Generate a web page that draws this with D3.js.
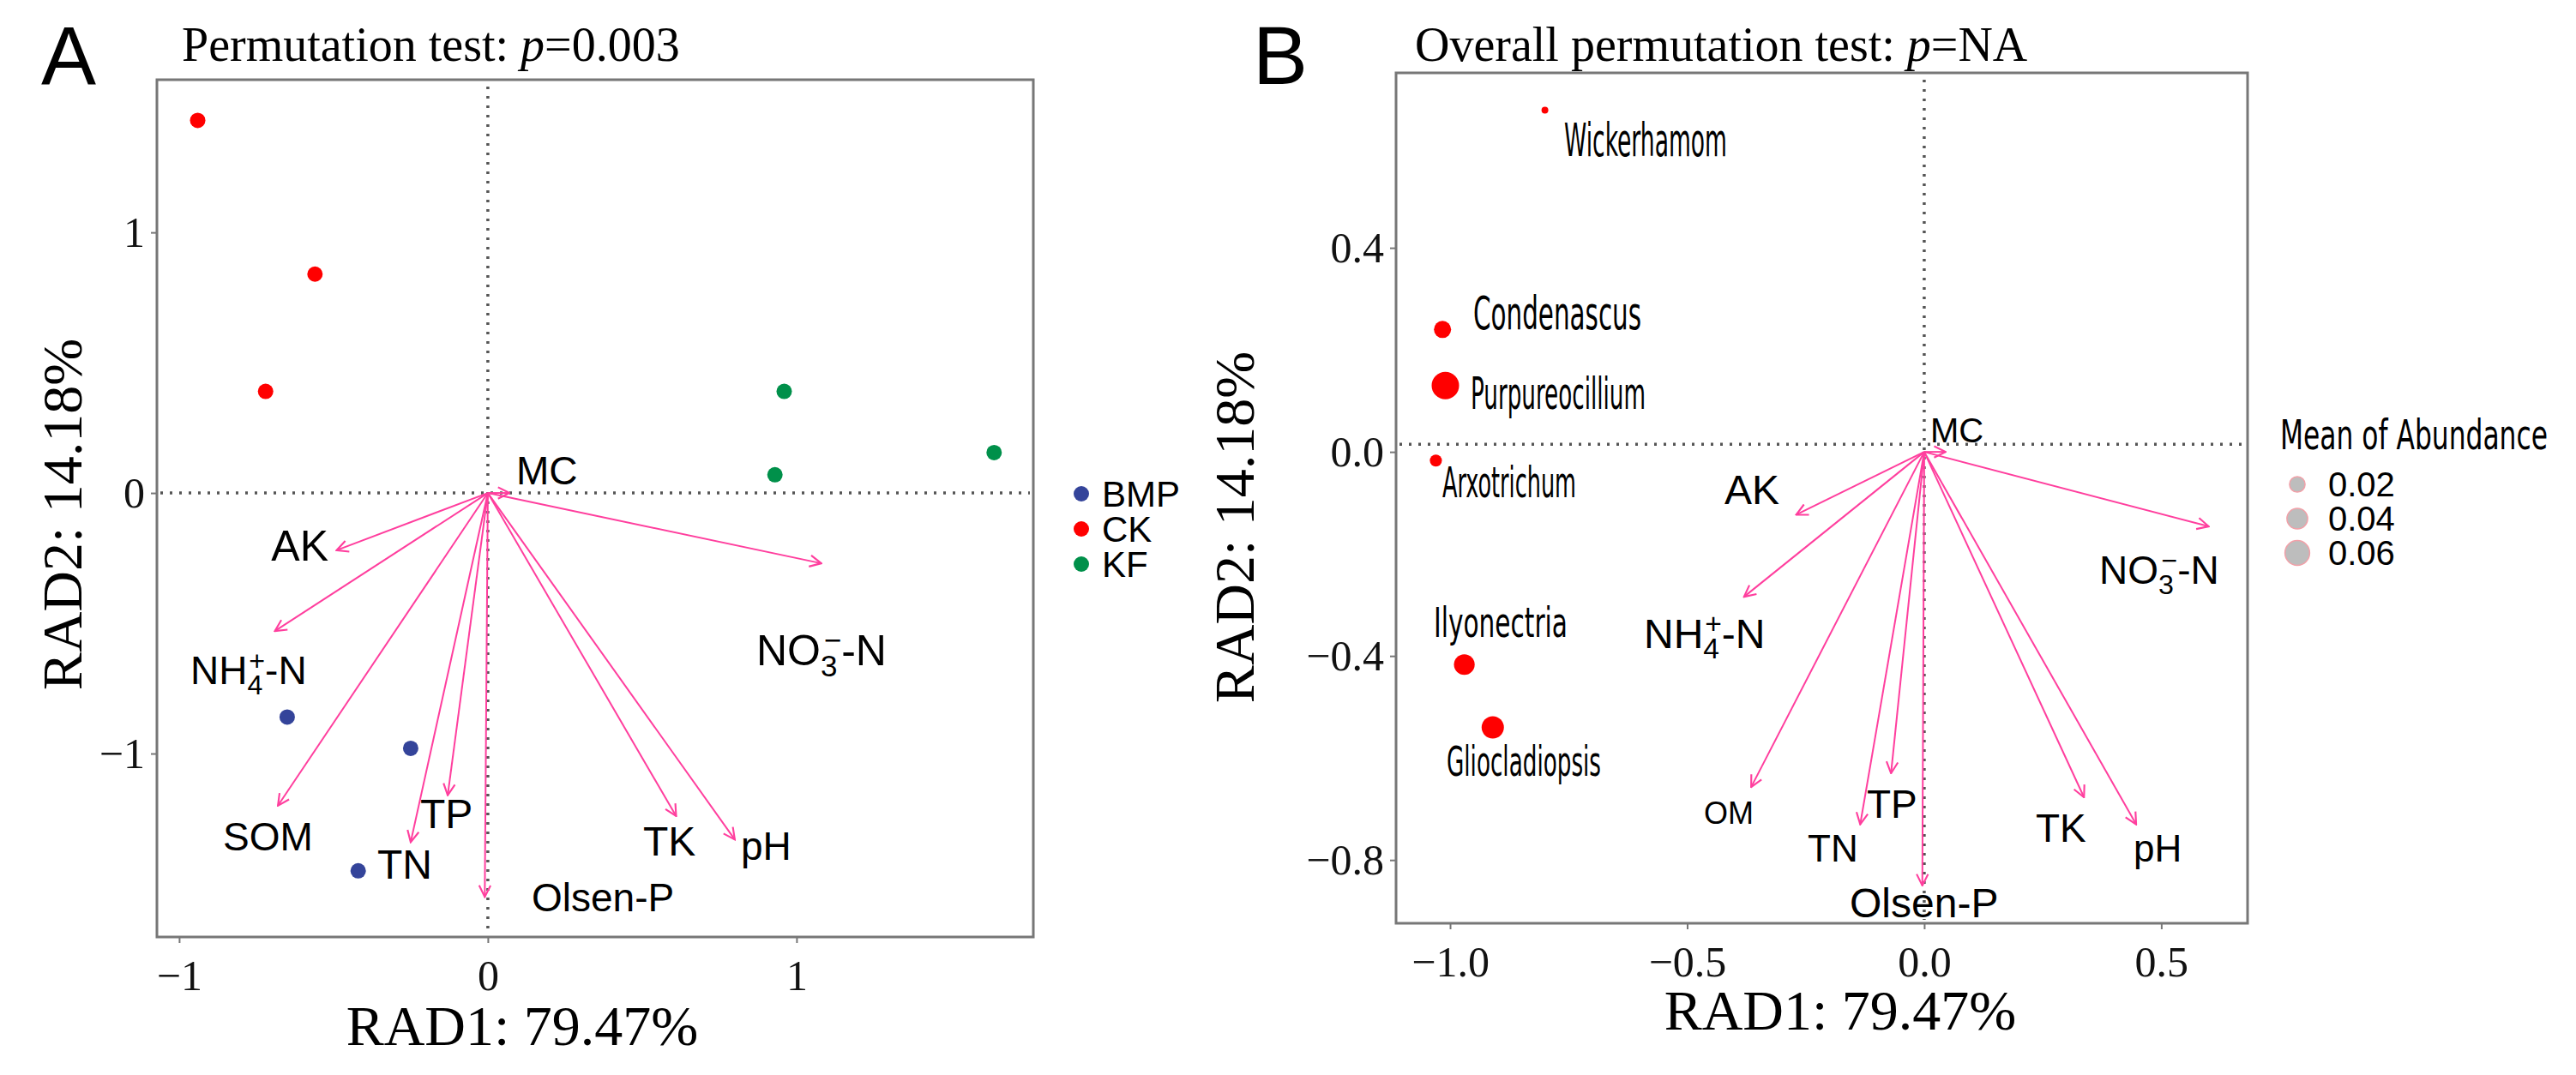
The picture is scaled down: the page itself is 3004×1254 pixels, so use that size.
<!DOCTYPE html>
<html><head><meta charset="utf-8">
<script src="https://cdn.jsdelivr.net/npm/d3@7"></script>
<style>body{margin:0;background:#fff}</style>
</head><body>
<svg id="chart" width="3004" height="1254"></svg>
<script>
// panel A samples
var groups = ["BMP", "CK", "KF"];
var groupColors = ["#34449a", "#ff0000", "#00904a"];
var sampleGroup = ["CK", "CK", "CK", "KF", "KF", "KF", "BMP", "BMP", "BMP"];
var sampleX = [-0.94, -0.56, -0.72, 0.96, 0.93, 1.64, -0.65, -0.25, -0.42];
var sampleY = [1.43, 0.84, 0.39, 0.39, 0.07, 0.155, -0.86, -0.98, -1.45];

// panel A env arrows
var envA = ["MC", "NO3", "AK", "NH4", "SOM", "TN", "TP", "Olsen-P", "TK", "pH"];
var envAX = [0.07, 1.08, -0.49, -0.69, -0.68, -0.25, -0.13, -0.01, 0.61, 0.80];
var envAY = [0.0, -0.27, -0.22, -0.53, -1.20, -1.34, -1.16, -1.55, -1.24, -1.33];

// panel B taxa
var taxa = ["Wickerhamom", "Condenascus", "Purpureocillium", "Arxotrichum", "Ilyonectria", "Gliocladiopsis"];
var taxaX = [-0.80, -1.016, -1.01, -1.03, -0.97, -0.91];
var taxaY = [0.67, 0.24, 0.13, -0.017, -0.417, -0.54];
var taxaAbund = [0.0012, 0.0196, 0.06, 0.0077, 0.031, 0.037];

// panel B env arrows
var envB = ["MC", "AK", "NO3", "NH4", "OM", "TN", "TP", "Olsen-P", "TK", "pH"];
var envBX = [0.045, -0.27, 0.60, -0.38, -0.365, -0.135, -0.07, -0.004, 0.337, 0.447];
var envBY = [0.0, -0.123, -0.146, -0.284, -0.657, -0.73, -0.63, -0.85, -0.677, -0.73];

var ticksA_X = [-1, 0, 1], ticksA_Y = [-1, 0, 1];
var ticksB_X = [-1.0, -0.5, 0.0, 0.5], ticksB_Y = [-0.8, -0.4, 0.0, 0.4];
var sizeLegend = [0.02, 0.04, 0.06];

var svg = d3.select("#chart");
var serif = "'Liberation Serif','Times New Roman',serif";
var sans = "'Liberation Sans',Arial,sans-serif";
var narrow = "'Liberation Sans Narrow','DejaVu Sans Condensed',sans-serif";
var pink = "#ff3f9e";

svg.append("defs").append("marker")
    .attr("id", "head").attr("markerUnits", "userSpaceOnUse")
    .attr("viewBox", "0 0 12 12").attr("refX", 11).attr("refY", 6)
    .attr("markerWidth", 16).attr("markerHeight", 16).attr("orient", "auto")
    .append("path").attr("d", "M1,1 L11,6 L1,11")
    .attr("fill", "none").attr("stroke", pink).attr("stroke-width", 1.6);

// label anchors, in pixels
var labA = {
    "MC": [602, 565, 46], "NO3": [882, 776, 50], "AK": [383, 654, 50, "end"], "NH4": [222, 798, 46],
    "SOM": [260, 992, 46], "TN": [440, 1025, 48], "TP": [490, 966, 48], "Olsen-P": [620, 1063, 46],
    "TK": [750, 998, 48], "pH": [864, 1003, 46]
};
var labB = {
    "MC": [2251, 516, 40], "AK": [2011, 588, 48], "NO3": [2448, 681, 46], "NH4": [1917, 756, 48],
    "OM": [1987, 961, 36], "TN": [2108, 1005, 44], "TP": [2177, 954, 46], "Olsen-P": [2157, 1070, 48],
    "TK": [2374, 982, 46], "pH": [2488, 1005, 44]
};

function envText(g, name, p) {
    var t = g.append("text").attr("x", p[0]).attr("y", p[1])
        .attr("font-family", sans).attr("font-size", p[2]).attr("fill", "#000")
        .attr("text-anchor", p[3] || "start");
    var s = p[2] * 0.7;
    if (name === "NH4") {
        t.append("tspan").text("NH");
        t.append("tspan").attr("font-size", s).attr("dy", p[2] * 0.25).text("4");
        t.append("tspan").attr("font-size", s).attr("dx", -s * 0.5).attr("dy", -p[2] * 0.6).text("+");
        t.append("tspan").attr("dy", p[2] * 0.35).text("-N");
    } else if (name === "NO3") {
        t.append("tspan").text("NO");
        t.append("tspan").attr("font-size", s).attr("dy", p[2] * 0.25).text("3");
        t.append("tspan").attr("font-size", s).attr("dx", -s * 0.45).attr("dy", -p[2] * 0.6).text("\u2212");
        t.append("tspan").attr("dy", p[2] * 0.35).text("-N");
    } else {
        t.text(name);
    }
}

function panel(o) {
    var x = d3.scaleLinear().domain(o.xd).range([o.left, o.right]);
    var y = d3.scaleLinear().domain(o.yd).range([o.bottom, o.top]);
    var g = svg.append("g");

    // dotted zero lines
    g.append("line").attr("x1", x(0)).attr("x2", x(0)).attr("y1", o.top + 8).attr("y2", o.bottom - 4)
        .attr("stroke", "#555").attr("stroke-width", 3.5).attr("stroke-dasharray", "3,8");
    g.append("line").attr("x1", o.left + 4).attr("x2", o.right - 4).attr("y1", y(o.hz)).attr("y2", y(o.hz))
        .attr("stroke", "#555").attr("stroke-width", 3.5).attr("stroke-dasharray", "3,8");

    // axes
    var ax = g.append("g").attr("transform", "translate(0," + o.bottom + ")")
        .call(d3.axisBottom(x).tickValues(o.tx).tickSize(7).tickFormat(o.fmt));
    var ay = g.append("g").attr("transform", "translate(" + o.left + ",0)")
        .call(d3.axisLeft(y).tickValues(o.ty).tickSize(7).tickFormat(o.fmt));
    [ax, ay].forEach(function(a) {
        a.select(".domain").remove();
        a.selectAll("line").attr("stroke", "#777").attr("stroke-width", 2);
        a.selectAll("text").attr("font-family", serif).attr("font-size", 50).attr("fill", "#111");
    });
    ax.selectAll("text").attr("dy", "1.05em").attr("y", 10);
    ay.selectAll("text").attr("x", -14);

    g.append("rect").attr("x", o.left).attr("y", o.top)
        .attr("width", o.right - o.left).attr("height", o.bottom - o.top)
        .attr("fill", "none").attr("stroke", "#777").attr("stroke-width", 3);

    // arrows
    g.selectAll(".arr").data(o.env).enter().append("line")
        .attr("x1", x(0)).attr("y1", y(0))
        .attr("x2", function(d, i) { return x(o.ex[i]); })
        .attr("y2", function(d, i) { return y(o.ey[i]); })
        .attr("stroke", pink).attr("stroke-width", 2)
        .attr("marker-end", "url(#head)");
    o.env.forEach(function(n) { envText(g, n, o.lab[n]); });

    // titles
    g.append("text").attr("x", o.letterX).attr("y", 98).attr("font-family", sans)
        .attr("font-size", 96).text(o.letter);
    var tt = g.append("text").attr("x", o.titleX).attr("y", 71).attr("font-family", serif).attr("font-size", 56);
    tt.append("tspan").text(o.title);
    tt.append("tspan").attr("font-style", "italic").text("p");
    tt.append("tspan").text("=" + o.pval);
    g.append("text").attr("x", o.xtX).attr("y", o.xtY).attr("text-anchor", "middle")
        .attr("font-family", serif).attr("font-size", 66).text("RAD1: 79.47%");
    g.append("text").attr("transform", "translate(" + o.ytX + "," + o.ytY + ") rotate(-90)")
        .attr("text-anchor", "middle").attr("font-family", serif).attr("font-size", 66).text("RAD2: 14.18%");
    return {x: x, y: y, g: g};
}

var A = panel({
    left: 183, right: 1205, top: 93, bottom: 1093,
    xd: [-1.072, 1.767], yd: [-1.704, 1.586], hz: 0,
    tx: ticksA_X, ty: ticksA_Y, fmt: function(d) { return d < 0 ? "\u2212" + Math.abs(d) : d; },
    env: envA, ex: envAX, ey: envAY, lab: labA,
    letter: "A", letterX: 48, title: "Permutation test: ", titleX: 212, pval: "0.003",
    xtX: 609, xtY: 1219, ytX: 95, ytY: 600
});
A.g.selectAll(".pt").data(sampleX).enter().append("circle")
    .attr("cx", function(d) { return A.x(d); })
    .attr("cy", function(d, i) { return A.y(sampleY[i]); })
    .attr("r", 9)
    .attr("fill", function(d, i) { return groupColors[groups.indexOf(sampleGroup[i])]; });

// legend A
var legA = svg.append("g");
groups.forEach(function(gname, i) {
    var yy = 576 + i * 41;
    legA.append("circle").attr("cx", 1261).attr("cy", yy).attr("r", 9).attr("fill", groupColors[i]);
    legA.append("text").attr("x", 1285).attr("y", yy + 15).attr("font-family", sans)
        .attr("font-size", 42).text(gname);
});

var B = panel({
    left: 1628, right: 2621, top: 85, bottom: 1077,
    xd: [-1.114, 0.682], yd: [-0.924, 0.743], hz: 0.015,
    tx: ticksB_X, ty: ticksB_Y, fmt: function(d) { return (d < 0 ? "\u2212" : "") + Math.abs(d).toFixed(1); },
    env: envB, ex: envBX, ey: envBY, lab: labB,
    letter: "B", letterX: 1461, title: "Overall permutation test: ", titleX: 1650, pval: "NA",
    xtX: 2146, xtY: 1201, ytX: 1462, ytY: 615
});
var r = d3.scaleSqrt().domain([0, 0.06]).range([2, 16]);
B.g.selectAll(".tx").data(taxaX).enter().append("circle")
    .attr("cx", function(d) { return B.x(d); })
    .attr("cy", function(d, i) { return B.y(taxaY[i]); })
    .attr("r", function(d, i) { return r(taxaAbund[i]); })
    .attr("fill", "#ff0000");
var taxaLab = [[1824, 182, 54, 190], [1718, 384, 54, 196], [1715, 477, 52, 204],
               [1682, 580, 50, 156], [1672, 743, 48, 156], [1687, 905, 48, 180]];
taxa.forEach(function(n, i) {
    var p = taxaLab[i];
    B.g.append("text").attr("x", p[0]).attr("y", p[1]).attr("font-family", narrow)
        .attr("font-size", p[2]).attr("textLength", p[3]).attr("lengthAdjust", "spacingAndGlyphs").text(n);
});

// legend B
var legB = svg.append("g");
legB.append("text").attr("x", 2659).attr("y", 524).attr("font-family", narrow).attr("font-size", 48)
    .attr("textLength", 312).attr("lengthAdjust", "spacingAndGlyphs").text("Mean of Abundance");
sizeLegend.forEach(function(v, i) {
    var yy = 565 + i * 40;
    legB.append("circle").attr("cx", 2679).attr("cy", yy).attr("r", r(v) * 0.9)
        .attr("fill", "#bdbdbd").attr("stroke", "#f2a0a8").attr("stroke-width", 1.5);
    legB.append("text").attr("x", 2715).attr("y", yy + 14).attr("font-family", sans)
        .attr("font-size", 40).text(v.toFixed(2));
});
</script>
</body></html>
